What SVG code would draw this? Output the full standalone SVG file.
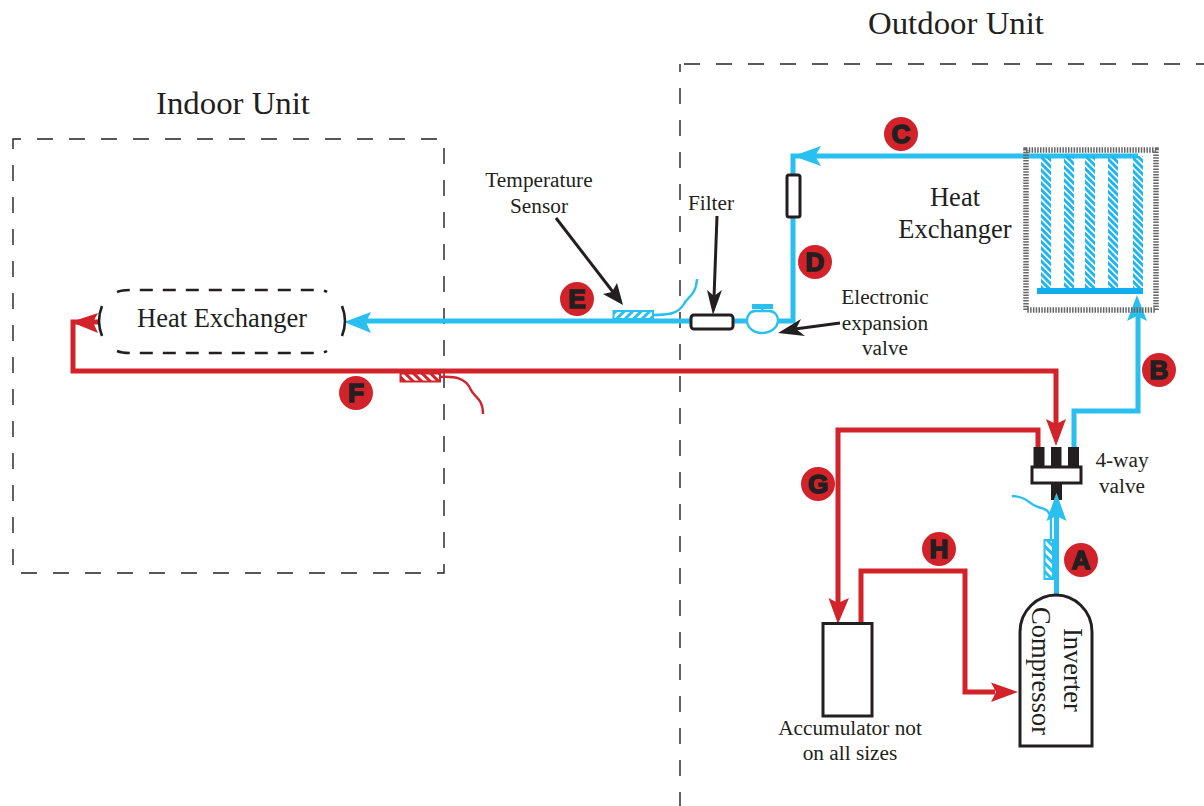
<svg xmlns="http://www.w3.org/2000/svg" width="1204" height="806" viewBox="0 0 1204 806">
<style>
text{font-family:"Liberation Serif","Times New Roman",serif;fill:#231f20}
.t30{font-size:32.5px}.t26{font-size:26.500px}.t20{font-size:21.300px}
.c{text-anchor:middle}
.dash{fill:none;stroke:#231f20;stroke-width:1.4;stroke-dasharray:16 16;stroke-dashoffset:8}
.blue{fill:none;stroke:#29c0f0;stroke-width:5}
.red{fill:none;stroke:#d2232a;stroke-width:5}
.bw{fill:none;stroke:#29c0f0;stroke-width:2.4}
.rw{fill:none;stroke:#d2232a;stroke-width:2.4}
.ah-b{fill:#29c0f0}.ah-r{fill:#d2232a}.ah-k{fill:#231f20}
.k{fill:#fff;stroke:#231f20;stroke-width:3}
.kl{fill:none;stroke:#231f20;stroke-width:2.6}
.disc{fill:#d2232a}
.let{font-family:"Liberation Sans",Arial,sans-serif;font-weight:700;font-size:26px;text-anchor:middle;fill:#231f20;stroke:#231f20;stroke-width:1.6}
</style>
<defs>
<pattern id="hb" width="13" height="13" patternUnits="userSpaceOnUse">
<path d="M-2,-2 L15,15 M-2,4.500 L8.500,15 M4.500,-2 L15,8.500 M-2,-8.500 L15,8.500 M-2,11 L2,15 M11,-2 L15,2" stroke="#1fb5ee" stroke-width="3" fill="none"/>
</pattern>
<pattern id="hse" width="6" height="6" patternUnits="userSpaceOnUse" patternTransform="rotate(-45)">
<rect width="6" height="3" fill="#29c0f0"/>
</pattern>
<pattern id="hsa" width="6" height="6" patternUnits="userSpaceOnUse" patternTransform="rotate(45)">
<rect width="6" height="3" fill="#29c0f0"/>
</pattern>
<pattern id="hr" width="6" height="6" patternUnits="userSpaceOnUse" patternTransform="rotate(45)">
<rect width="6" height="3" fill="#d2232a"/>
</pattern>
</defs>

<g id="indoor-unit">
<rect class="dash" x="13" y="139" width="431" height="434"/>
<text class="t30 c" x="233" y="114" textLength="154" lengthAdjust="spacingAndGlyphs">Indoor Unit</text>
</g>
<g id="outdoor-unit">
<path class="dash" d="M1204,64 H680"/>
<path class="dash" d="M680,64 V806"/>
<text class="t30 c" x="956" y="34" textLength="176" lengthAdjust="spacingAndGlyphs">Outdoor Unit</text>
</g>

<g id="connectors">
<path class="blue" d="M1138,156 H793 V321 H360"/>
<path class="blue" d="M1056.500,595 V510"/>
<path class="blue" d="M1074,447 V411 H1138 V312"/>
<path class="red" d="M100,322 H73 V371 H1056 V425"/>
<path class="red" d="M1038,447 V430 H838 V605"/>
<path class="red" d="M861,623 V571 H965 V692 H995"/>
<path class="ah-b" d="M793,156 L821,146 L815,156 L821,166Z"/>
<path class="ah-b" d="M344,322 L371,312 L366,322 L371,333Z"/>
<path class="ah-b" d="M1137,295 L1147,321 L1137,316 L1127,321Z"/>
<path class="ah-b" d="M1056.500,493 L1066.500,521 L1056.500,516 L1046.500,521Z"/>
<path class="ah-r" d="M71,322 L98,313 L93,322 L98,333Z"/>
<path class="ah-r" d="M1056,446 L1046,419 L1056,424 L1066,419Z"/>
<path class="ah-r" d="M838,624 L828.500,598 L838,603 L849,598Z"/>
<path class="ah-r" d="M1018,692 L991,682.500 L996,692 L991,702Z"/>
<g stroke="#231f20" stroke-width="3">
<path d="M556,218 L613,292"/><path d="M717,216 L714,298"/><path d="M840,323 L795,329"/>
</g>
<path class="ah-k" d="M623,305 L603,294 L612,292 L617,283Z"/>
<path class="ah-k" d="M713,315 L707,290 L714,296 L722,290Z"/>
<path class="ah-k" d="M778,333 L801,319 L796,329 L805,336Z"/>
</g>

<g id="outdoor-exchanger">
<rect x="1026" y="150" width="130" height="160" fill="none" stroke="#666" stroke-width="5.500" stroke-dasharray="1.500 1.300"/>
<rect x="1041" y="156" width="10" height="134" fill="url(#hb)"/>
<rect x="1064" y="156" width="10" height="134" fill="url(#hb)"/>
<rect x="1085" y="156" width="10" height="134" fill="url(#hb)"/>
<rect x="1108" y="156" width="10" height="134" fill="url(#hb)"/>
<rect x="1133" y="156" width="10" height="134" fill="url(#hb)"/>
<rect x="1037" y="288" width="106" height="6" fill="#10aeec"/>
<text class="t26 c" x="955" y="206">Heat</text>
<text class="t26 c" x="955" y="238">Exchanger</text>
</g>

<g id="indoor-exchanger">
<path class="kl" d="M117,292 Q122,290 130,290 H316 Q324,290 327,292" stroke-dasharray="13 10"/>
<path class="kl" d="M117,351 Q122,353 130,353 H316 Q324,353 327,351" stroke-dasharray="13 10"/>
<path class="kl" d="M102,306 Q96,321 102,336"/>
<path class="kl" d="M342,306 Q348,321 342,336"/>
<text class="t26 c" x="222" y="327">Heat Exchanger</text>
</g>

<g id="filter-d">
<rect class="k" x="787" y="175" width="13" height="42" rx="2"/>
</g>
<g id="filter">
<rect class="k" x="691" y="315" width="42" height="14" rx="3"/>
<text class="t20 c" x="711" y="210">Filter</text>
</g>
<g id="expansion-valve">
<path d="M755,311 H769 C775,311 778,316 778,320 C778,328 770,333 762,333 C754,333 747,328 747,320 C747,316 750,311 755,311Z" fill="#fff" stroke="#29c0f0" stroke-width="2.400"/>
<rect x="752" y="304" width="21" height="5" fill="#29c0f0"/>
<rect x="761" y="308" width="2.500" height="4" fill="#29c0f0"/>
<text class="t20 c" x="885" y="304">Electronic</text>
<text class="t20 c" x="885" y="330">expansion</text>
<text class="t20 c" x="885" y="355">valve</text>
</g>
<g id="sensor-e">
<rect x="613.500" y="311" width="39.500" height="8" fill="#fff"/>
<rect x="613.500" y="311" width="39.500" height="8" fill="url(#hse)" stroke="#29c0f0" stroke-width="2"/>
<path class="bw" d="M653,315 C668,315 678,314 684,304 C687,297 696,296 697,279"/>
<text class="t20 c" x="539" y="187">Temperature</text>
<text class="t20 c" x="539" y="213">Sensor</text>
</g>
<g id="sensor-f">
<rect x="400.500" y="373.500" width="39.500" height="8" fill="#fff"/>
<rect x="400.500" y="373.500" width="39.500" height="8" fill="url(#hr)" stroke="#d2232a" stroke-width="2"/>
<path class="rw" d="M440,377 C455,376 466,378 471,390 C474,397 483,398 483,414"/>
</g>
<g id="sensor-a">
<rect x="1044.500" y="540" width="8.500" height="39" fill="#fff"/>
<rect x="1044.500" y="540" width="8.500" height="39" fill="url(#hsa)" stroke="#29c0f0" stroke-width="2"/>
<path class="bw" d="M1051,540 V522 C1051,511 1046,509 1038,507 C1029,505 1029,497 1012,496"/>
</g>

<g id="four-way-valve">
<rect x="1033.500" y="447" width="11" height="20" fill="#231f20"/>
<rect x="1051" y="447" width="10.500" height="20" fill="#231f20"/>
<rect x="1068" y="447" width="11" height="20" fill="#231f20"/>
<rect class="k" x="1032" y="467" width="49" height="16"/>
<path d="M1051,484 H1062 V500 H1059 L1056.500,493 L1054,500 H1051Z" fill="#231f20"/>
<text class="t20 c" x="1122" y="467">4-way</text>
<text class="t20 c" x="1122" y="493">valve</text>
</g>

<g id="accumulator">
<rect class="k" x="823" y="623.500" width="49" height="92.500"/>
<text class="t20 c" x="850" y="735">Accumulator not</text>
<text class="t20 c" x="850" y="760">on all sizes</text>
</g>
<g id="compressor">
<path class="k" d="M1020,746 V632 C1020,610 1038,595 1056,595 C1074,595 1092,610 1092,632 V746Z"/>
<text class="t26" transform="translate(1064,628) rotate(90)">Inverter</text>
<text class="t26" transform="translate(1032,607) rotate(90)">Compressor</text>
</g>

<g id="badges">
<g id="badge-a"><circle class="disc" cx="1081" cy="560" r="17"/><text class="let" x="1081" y="569">A</text></g>
<g id="badge-b"><circle class="disc" cx="1159" cy="370" r="17"/><text class="let" x="1159" y="379">B</text></g>
<g id="badge-c"><circle class="disc" cx="901" cy="134" r="17"/><text class="let" x="901" y="143">C</text></g>
<g id="badge-d"><circle class="disc" cx="815" cy="262" r="17"/><text class="let" x="815" y="271">D</text></g>
<g id="badge-e"><circle class="disc" cx="577" cy="299" r="17"/><text class="let" x="577" y="308">E</text></g>
<g id="badge-f"><circle class="disc" cx="356" cy="393" r="17"/><text class="let" x="356" y="402">F</text></g>
<g id="badge-g"><circle class="disc" cx="818" cy="484" r="17"/><text class="let" x="818" y="493">G</text></g>
<g id="badge-h"><circle class="disc" cx="939" cy="549" r="17"/><text class="let" x="939" y="558">H</text></g>
</g>
</svg>
